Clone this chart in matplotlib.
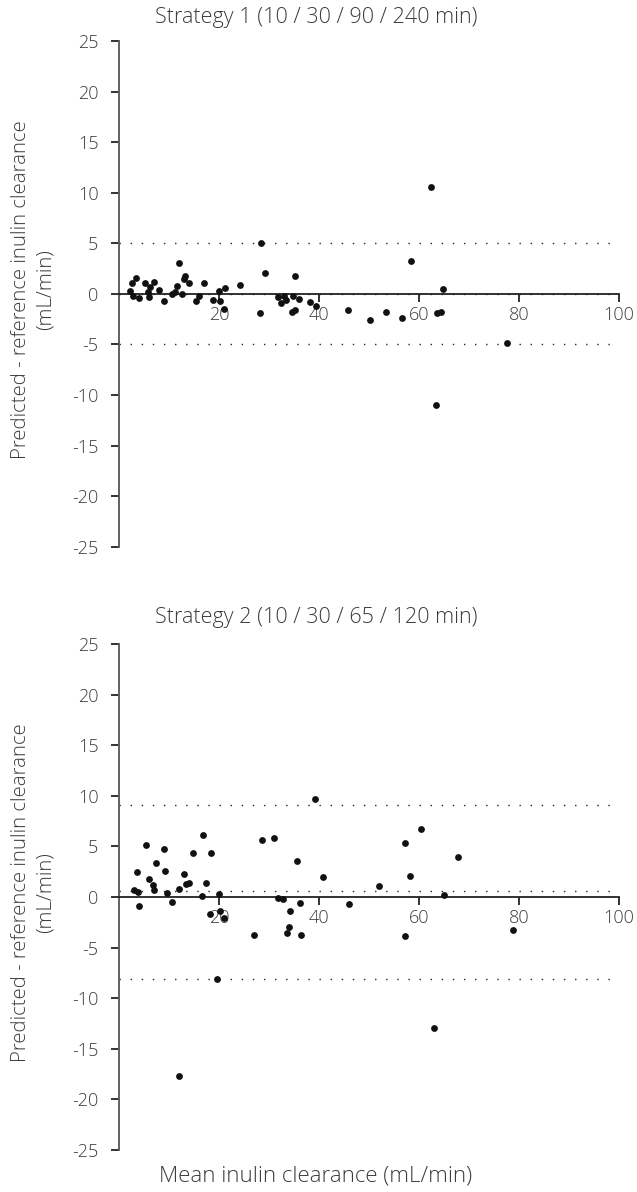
import matplotlib
matplotlib.use("Agg")
import matplotlib.pyplot as plt

# Strategy 1 data (mean clearance, difference)
s1_mean = [2.1, 2.5, 3.3, 2.7, 4.0, 5.2, 6.1, 5.7, 5.9, 6.9, 7.9, 8.9, 10.5, 11.1, 11.5,
           11.9, 12.5, 12.9, 13.2, 13.9, 15.4, 15.9, 17.0, 18.7, 19.9, 20.2, 20.9, 21.1,
           24.2, 28.4, 29.2, 28.2, 31.8, 32.4, 32.9, 33.4, 34.7, 35.2, 35.9, 34.5, 35.1,
           38.1, 39.4, 45.7, 50.2, 53.3, 56.5, 58.4, 63.5, 62.3, 64.7, 64.3, 77.5, 63.3]
s1_diff = [0.33, 1.06, 1.6, -0.26, -0.43, 1.06, 0.63, 0.23, -0.36, 1.22, 0.36, -0.73, -0.03,
           0.23, 0.73, 3.04, -0.03, 1.45, 1.72, 1.06, -0.66, -0.2, 1.12, -0.63, 0.3, -0.73,
           -1.49, 0.56, 0.89, 5.0, 2.05, -1.91, -0.36, -0.86, -0.2, -0.59, -0.26, 1.78, -0.5,
           -1.75, -1.58, -0.76, -1.16, -1.58, -2.57, -1.75, -2.41, 3.2, -1.91, 10.6, 0.46,
           -1.75, -4.89, -10.96]
s1_bias = -0.05
s1_upper = 5.0
s1_lower = -5.0

# Strategy 2 data
s2_mean = [2.9, 3.7, 3.5, 3.9, 5.3, 5.9, 6.7, 6.9, 7.4, 8.9, 9.2, 9.5, 10.5, 11.9, 13.0,
           13.4, 13.9, 14.7, 16.7, 16.5, 17.3, 18.4, 18.2, 20.0, 20.2, 20.9,
           39.2, 28.5, 31.0, 35.5, 40.8, 51.9, 31.7, 32.7, 36.1, 46.0, 34.2, 34.0, 33.5,
           36.3, 26.9, 60.4, 57.1, 67.7, 58.1, 64.9, 57.2, 78.7, 19.5, 62.9, 11.9]
s2_diff = [0.73, 0.5, 2.47, -0.92, 5.1, 1.78, 1.15, 0.73, 3.36, 4.78, 2.54, 0.4, -0.52, 0.79,
           2.31, 1.25, 1.38, 4.34, 6.16, 0.14, 1.42, 4.38, -1.64, 0.27, -1.38, -2.03,
           9.71, 5.6, 5.79, 3.59, 1.94, 1.12, -0.1, -0.16, -0.59, -0.66, -1.41, -2.99, -3.58,
           -3.78, -3.71, 6.68, 5.37, 3.99, 2.11, 0.2, -3.85, -3.29, -8.1, -12.96, -17.67]
s2_bias = 0.55
s2_upper = 9.08
s2_lower = -8.07

titles = ["Strategy 1 (10 / 30 / 90 / 240 min)", "Strategy 2 (10 / 30 / 65 / 120 min)"]
ylabel = "Predicted - reference inulin clearance\n(mL/min)"
xlabel = "Mean inulin clearance (mL/min)"
xticks = [20, 40, 60, 80, 100]
yticks = [-25, -20, -15, -10, -5, 0, 5, 10, 15, 20, 25]

plt.rcParams['font.family'] = ['Open Sans', 'DejaVu Sans']
TXT = '#3c3c3c'

W, H = 637, 1192
fig = plt.figure(figsize=(W / 100, H / 100), dpi=100)

panels = [
    (s1_mean, s1_diff, s1_bias, s1_upper, s1_lower, 546.7, 41),
    (s2_mean, s2_diff, s2_bias, s2_upper, s2_lower, 1150, 644),
]
title_y = [17, 618]
for i, (xm, yd, bias, up, lo, ybot, ytop) in enumerate(panels):
    ax = fig.add_axes([119 / W, 1 - ybot / H, 500 / W, (ybot - ytop) / H])
    ax.set_xlim(0, 100)
    ax.set_ylim(-25, 25)
    for yv in (up, bias, lo):
        ax.plot([0, 100], [yv, yv], color='#222222', lw=1.0, linestyle=(0, (1, 7)),
                zorder=2)
    ax.scatter(xm, yd, s=24, color='#111111', zorder=4, clip_on=False, linewidths=0)
    for s in ('top', 'right'):
        ax.spines[s].set_visible(False)
    ax.spines['left'].set_color('#555555')
    ax.spines['left'].set_linewidth(1.3)
    ax.spines['bottom'].set_position(('data', 0))
    ax.spines['bottom'].set_color('#222222')
    ax.spines['bottom'].set_linewidth(1.3)
    ax.set_xticks(xticks)
    ax.set_xticklabels([str(v) for v in xticks])
    ax.set_yticks(yticks)
    ax.set_yticklabels([str(v) for v in yticks])
    ax.tick_params(axis='both', direction='out', length=5.8, width=1.3, color='#222222',
                   labelsize=13, labelcolor=TXT)
    ax.tick_params(axis='y', pad=9)
    ax.tick_params(axis='x', pad=3)
    for lab in ax.get_xticklabels() + ax.get_yticklabels():
        lab.set_fontweight('light')
    ax.patch.set_alpha(0)
    fig.text(316 / W, 1 - title_y[i] / H, titles[i], ha='center', va='center',
             fontsize=15.5, color=TXT, fontweight='light')
    ymid = 1 - ((ybot + ytop) / 2 - 4) / H
    fig.text(33 / W, ymid, ylabel, ha='center', va='center', rotation=90,
             fontsize=14.7, color=TXT, fontweight='light', multialignment='center',
             linespacing=1.3)

fig.text(316 / W, 1 - 1176 / H, xlabel, ha='center', va='center', fontsize=16,
         color=TXT, fontweight='light')

fig.savefig('out.png', dpi=100)
